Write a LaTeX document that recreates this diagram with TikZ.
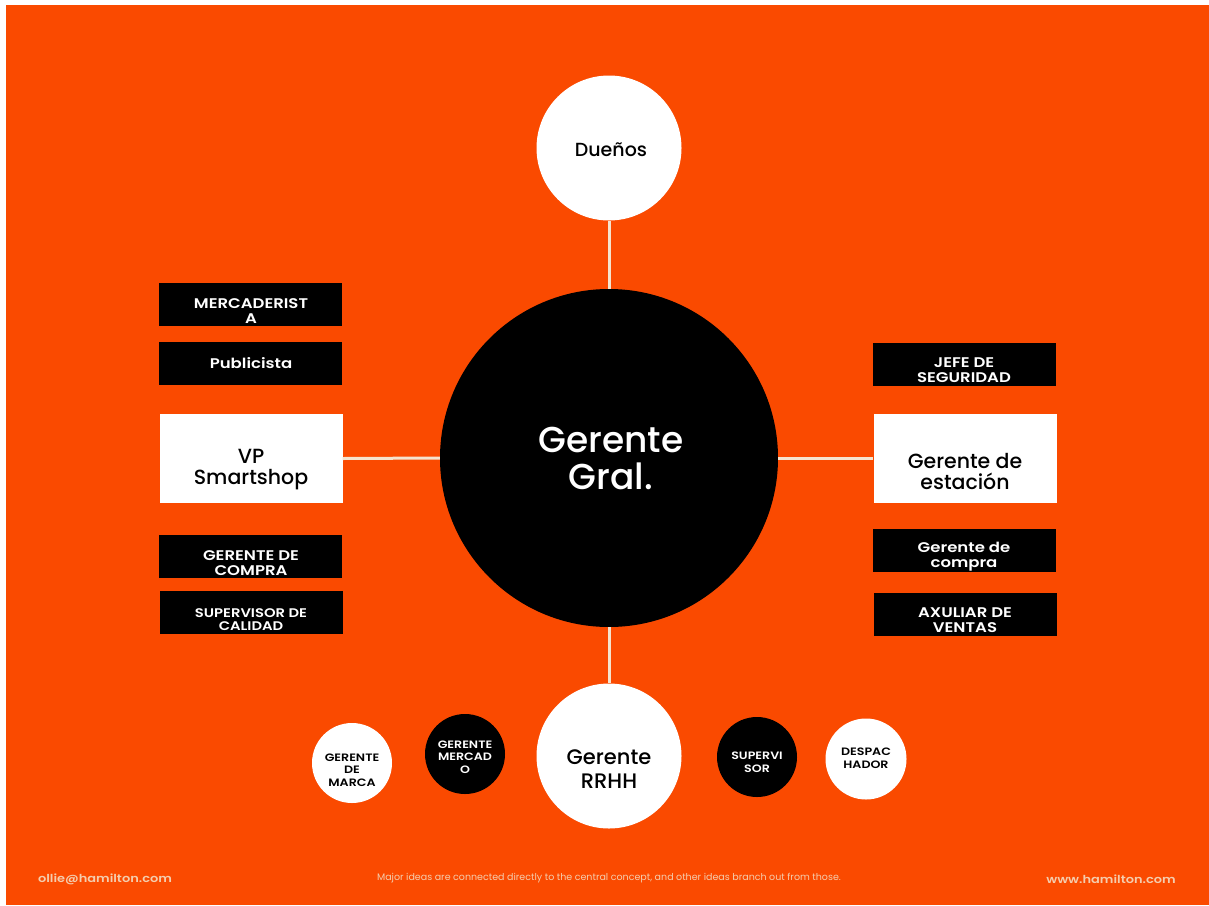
\documentclass[tikz,border=0pt]{standalone}
\usepackage{fontspec}
\setmainfont{Poppins}
\newfontfamily\semib{Poppins SemiBold}[FakeStretch=1.18]
\newfontfamily\medf{Poppins Medium}
\definecolor{bgor}{HTML}{FA4A00}
\definecolor{cream}{HTML}{F5E4CF}
\definecolor{foot}{HTML}{F4CDAE}
\tikzset{
  link/.style={draw=cream, line width=3pt},
  bigcirc/.style={circle, inner sep=0pt},
  blackbox/.style={fill=black, minimum width=183pt, minimum height=43pt, inner sep=0pt},
  whitebox/.style={fill=white, minimum width=183pt, minimum height=89pt, inner sep=0pt},
  boxtext/.style={text=white, align=center, font=\semib\fontsize{14}{15}\selectfont, inner sep=0pt},
  smalltext/.style={text=white, align=center, font=\semib\fontsize{12.5}{13}\selectfont, inner sep=0pt},
  midtext/.style={text=black, align=center, font=\medf\fontsize{20.5}{21}\selectfont, inner sep=0pt},
  circtext/.style={align=center, font=\semib\fontsize{10.7}{12.5}\selectfont, inner sep=0pt},
  foottext/.style={text=foot, inner sep=0pt}
}
\begin{document}
\begin{tikzpicture}[x=1pt,y=-1pt]
\useasboundingbox (0,0) rectangle (1209,905);
\fill[white] (0,0) rectangle (1209,905);
\fill[bgor] (6,5) rectangle (1209,905);

% main circles
\node[bigcirc, fill=black, minimum size=338pt] (gg) at (609,458) {};
\node[bigcirc, fill=white, minimum size=145pt] (du) at (609,148) {};
\node[bigcirc, fill=white, minimum size=145pt] (rh) at (609,756) {};

% side boxes
\node[whitebox] (vp) at (251,458.5) {};
\node[whitebox] (ge) at (965,458) {};

% connectors
\draw[link] (du.south) -- (gg.north);
\draw[link] (gg.south) -- (rh.north);
\draw[link] (vp.east) -- (gg.west);
\draw[link] (gg.east) -- (ge.west);

% texts in main circles
\node[text=white, align=center, font=\medf\fontsize{36}{37}\selectfont, inner sep=0pt] (ggt) at (611,458) {Gerente\\Gral.};
\node[text=black, font=\medf\fontsize{19}{20}\selectfont, inner sep=0pt] (dut) at (611,150) {Dueños};
\node[text=black, align=center, font=\medf\fontsize{21}{24}\selectfont, inner sep=0pt] (rht) at (609,769) {Gerente\\RRHH};

\node[midtext] (vpt) at (251,470) {VP\\Smartshop};
\node[midtext] (get) at (965,471) {Gerente de\\estación};

% left black boxes
\node[blackbox] (b1) at (250.5,304) {};
\node[boxtext] (b1t) at (251,311) {MERCADERIST\\A};
\node[blackbox] (b2) at (250.5,363.5) {};
\node[boxtext] (b2t) at (251,363) {Publicista};
\node[blackbox] (b3) at (250.5,556) {};
\node[boxtext] (b3t) at (251,563) {GERENTE DE\\COMPRA};
\node[blackbox] (b4) at (251.5,612.5) {};
\node[smalltext] (b4t) at (251,620) {SUPERVISOR DE\\CALIDAD};

% right black boxes
\node[blackbox] (r1) at (964,364) {};
\node[boxtext] (r1t) at (964,370) {JEFE DE\\SEGURIDAD};
\node[blackbox] (r2) at (964,550.5) {};
\node[boxtext] (r2t) at (964,557) {Gerente de\\compra};
\node[blackbox] (r3) at (965.5,614.5) {};
\node[boxtext] (r3t) at (965,620) {AXULIAR DE\\VENTAS};

% small circles
\node[bigcirc, fill=white, minimum size=80pt] (c1) at (352,763) {};
\node[circtext, text=black] (c1t) at (352,770) {GERENTE\\DE\\MARCA};
\node[bigcirc, fill=black, minimum size=80pt] (c2) at (465,754) {};
\node[circtext, text=white] (c2t) at (465,757) {GERENTE\\MERCAD\\O};
\node[bigcirc, fill=black, minimum size=80pt] (c3) at (757,757) {};
\node[circtext, text=white] (c3t) at (757,762) {SUPERVI\\SOR};
\node[bigcirc, fill=white, minimum size=81pt] (c4) at (866,759) {};
\node[circtext, text=black] (c4t) at (866,758) {DESPAC\\HADOR};

% footer
\node[foottext, font=\semib\fontsize{11}{13}\selectfont] (f1) at (105,879) {ollie@hamilton.com};
\node[foottext, font=\fontsize{9.5}{11}\selectfont] (f2) at (609,878) {Major ideas are connected directly to the central concept, and other ideas branch out from those.};
\node[foottext, font=\semib\fontsize{11}{13}\selectfont] (f3) at (1111,879) {www.hamilton.com};
\end{tikzpicture}
\end{document}
